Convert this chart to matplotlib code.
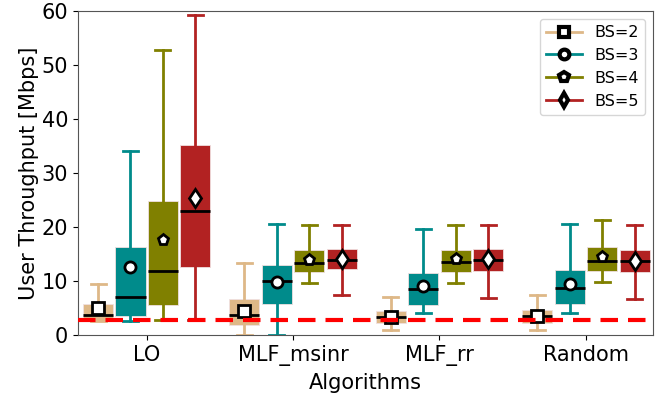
import matplotlib
matplotlib.use("Agg")
import matplotlib.pyplot as plt
from matplotlib.lines import Line2D
import numpy as np

algorithms = ["LO", "MLF_msinr", "MLF_rr", "Random"]
series = ["BS=2", "BS=3", "BS=4", "BS=5"]

# box statistics per series, one entry per algorithm
whislo = {
    "BS=2": [2.6, 0.0, 0.9, 0.9],
    "BS=3": [2.6, 0.0, 4.0, 4.1],
    "BS=4": [2.8, 9.7, 9.7, 9.75],
    "BS=5": [2.8, 7.35, 6.9, 6.6],
}
q1 = {
    "BS=2": [2.65, 1.85, 2.16, 2.28],
    "BS=3": [3.6, 5.7, 5.5, 5.75],
    "BS=4": [5.6, 11.7, 11.7, 11.8],
    "BS=5": [12.65, 12.15, 11.9, 11.7],
}
med = {
    "BS=2": [3.65, 3.77, 3.27, 3.5],
    "BS=3": [7.05, 10.0, 8.5, 8.77],
    "BS=4": [11.85, 13.4, 13.5, 13.65],
    "BS=5": [22.9, 13.95, 13.8, 13.77],
}
q3 = {
    "BS=2": [5.75, 6.67, 4.38, 4.57],
    "BS=3": [16.2, 13.0, 11.5, 12.0],
    "BS=4": [24.8, 15.7, 15.7, 16.2],
    "BS=5": [35.2, 16.0, 15.9, 15.75],
}
whishi = {
    "BS=2": [9.4, 13.3, 7.05, 7.5],
    "BS=3": [34.1, 20.5, 19.6, 20.5],
    "BS=4": [52.8, 20.3, 20.3, 21.3],
    "BS=5": [59.3, 20.3, 20.3, 20.3],
}
mean = {
    "BS=2": [4.95, 4.5, 3.4, 3.56],
    "BS=3": [12.5, 9.75, 9.07, 9.4],
    "BS=4": [17.5, 13.9, 14.0, 14.45],
    "BS=5": [25.3, 14.07, 14.0, 13.7],
}
threshold = 2.8

colors = {"BS=2": "#DEB887", "BS=3": "#008B8B", "BS=4": "#808000", "BS=5": "#B22222"}
markers = {"BS=2": "s", "BS=3": "o", "BS=4": "p", "BS=5": "d"}

fs = 15
fig, ax = plt.subplots(figsize=(6.72, 3.97), dpi=100)

group_x = np.arange(len(algorithms))
step = 0.222
width = 0.205

for i, s in enumerate(series):
    stats = []
    for j in range(len(algorithms)):
        stats.append({"whislo": whislo[s][j], "q1": q1[s][j], "med": med[s][j],
                      "q3": q3[s][j], "whishi": whishi[s][j], "mean": mean[s][j]})
    pos = group_x + (i - 1.5) * step
    c = colors[s]
    ax.bxp(stats, positions=pos, widths=width, patch_artist=True, showfliers=False,
           showmeans=True, manage_ticks=False,
           boxprops=dict(facecolor=c, edgecolor="#f0e0e0", linewidth=0.6),
           whiskerprops=dict(color=c, linewidth=2),
           capprops=dict(color=c, linewidth=2),
           medianprops=dict(color="k", linewidth=2),
           meanprops=dict(marker=markers[s], markerfacecolor="w", markeredgecolor="k",
                          markeredgewidth=2, markersize=8 if s != "BS=5" else 9.5))

ax.axhline(threshold, color="red", linestyle=(0, (4.2, 2.4)), linewidth=3, zorder=5)

ax.set_xlim(-0.47, 3.46)
ax.set_ylim(0, 60)
ax.set_xticks(group_x)
ax.set_xticklabels(algorithms, fontsize=fs)
ax.tick_params(axis="y", labelsize=fs)
ax.set_xlabel("Algorithms", fontsize=fs, labelpad=5)
ax.set_ylabel("User Throughput [Mbps]", fontsize=fs, labelpad=2)
for sp in ax.spines.values():
    sp.set_color("#555555")

handles = [Line2D([0], [0], color=colors[s], linewidth=2, marker=markers[s],
                  markerfacecolor="w", markeredgecolor="k", markeredgewidth=3,
                  markersize=7) for s in series]
ax.legend(handles, series, loc="upper right", fontsize=11.5, handlelength=2.2,
          labelspacing=0.5, borderaxespad=0.5)

fig.subplots_adjust(left=0.116, right=0.972, top=0.973, bottom=0.156)
fig.savefig("out.png", dpi=100)
